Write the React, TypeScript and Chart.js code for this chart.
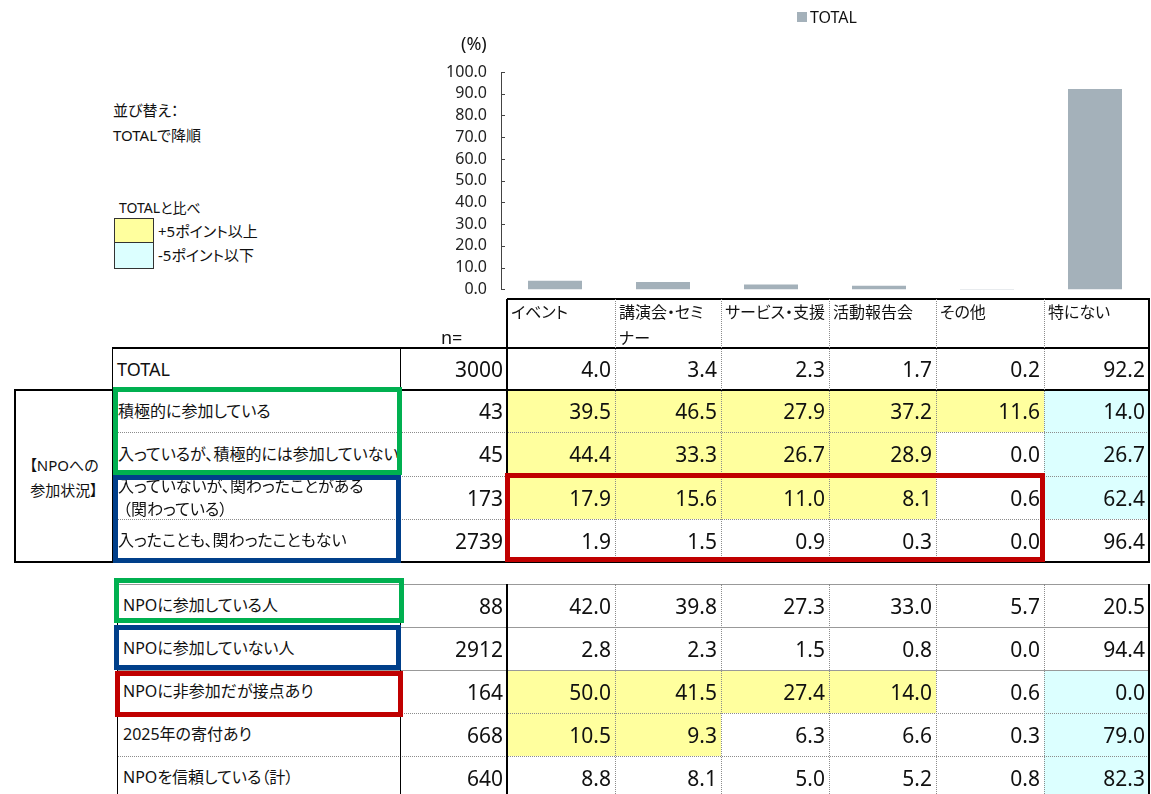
import React, { useEffect, useRef } from "react";
import { Chart, registerables } from "chart.js";

Chart.register(...registerables);

// ---------- data ----------
const categories = ["イベント", "講演会・セミナー", "サービス・支援", "活動報告会", "その他", "特にない"];
const categoryHeaderLines = [["イベント"], ["講演会・セミ", "ナー"], ["サービス・支援"], ["活動報告会"], ["その他"], ["特にない"]];
const seriesLabel = "TOTAL";
const totalN = 3000;
const totalValues = [4.0, 3.4, 2.3, 1.7, 0.2, 92.2];

const groupLabel = ["【NPOへの", "参加状況】"];
const groupRowLabels = [
  ["積極的に参加している"],
  ["入っているが、積極的には参加していない"],
  ["入っていないが、関わったことがある", "（関わっている）"],
  ["入ったことも、関わったこともない"],
];
const groupRowN = [43, 45, 173, 2739];
const groupRowValues = [
  [39.5, 46.5, 27.9, 37.2, 11.6, 14.0],
  [44.4, 33.3, 26.7, 28.9, 0.0, 26.7],
  [17.9, 15.6, 11.0, 8.1, 0.6, 62.4],
  [1.9, 1.5, 0.9, 0.3, 0.0, 96.4],
];

const extraRowLabels = ["NPOに参加している人", "NPOに参加していない人", "NPOに非参加だが接点あり", "2025年の寄付あり", "NPOを信頼している（計）"];
const extraRowN = [88, 2912, 164, 668, 640];
const extraRowValues = [
  [42.0, 39.8, 27.3, 33.0, 5.7, 20.5],
  [2.8, 2.3, 1.5, 0.8, 0.0, 94.4],
  [50.0, 41.5, 27.4, 14.0, 0.6, 0.0],
  [10.5, 9.3, 6.3, 6.6, 0.3, 79.0],
  [8.8, 8.1, 5.0, 5.2, 0.8, 82.3],
];
const extraRowCompared = [false, false, true, true, true];

const yMin = 0;
const yMax = 100;
const yStep = 10;

// ---------- styles ----------
const BAR = "#A4B1BA";
const YELLOW = "#FFFF9E";
const CYAN = "#DCFFFF";
const GREEN = "#00B050";
const BLUE = "#003F8A";
const RED = "#C00000";
const FONT_JP = "'Noto Sans', 'Noto Sans CJK JP', sans-serif";
const FONT_NUM = "'Noto Sans', sans-serif";

const colX = [507, 615, 721, 829, 936, 1044, 1149];
const t1Rows = [
  [390, 432],
  [432, 476],
  [476, 519],
  [519, 562],
];
const t2Rows = [
  [584, 627],
  [627, 670],
  [670, 713],
  [713, 756],
  [756, 799],
];

function shade(v: number, base: number): string | null {
  if (v - base >= 5) return YELLOW;
  if (v - base <= -5) return CYAN;
  return null;
}

const H = (x1: number, x2: number, y: number, w: number, color: string, style = "solid", key?: string) => (
  <div
    key={key}
    style={{ position: "absolute", left: x1, top: y - w / 2, width: x2 - x1, height: 0, borderTop: `${w}px ${style} ${color}` }}
  />
);
const V = (x: number, y1: number, y2: number, w: number, color: string, style = "solid", key?: string) => (
  <div
    key={key}
    style={{ position: "absolute", left: x - w / 2, top: y1, width: 0, height: y2 - y1, borderLeft: `${w}px ${style} ${color}` }}
  />
);

function NumCell({ right, top, bottom, text }: { right: number; top: number; bottom: number; text: string }) {
  return (
    <div
      style={{
        position: "absolute",
        left: right - 150,
        width: 150,
        top,
        height: bottom - top,
        display: "flex",
        alignItems: "center",
        justifyContent: "flex-end",
        fontFamily: FONT_NUM,
        fontSize: 21,
        color: "#111",
        whiteSpace: "nowrap",
      }}
    >
      {text}
    </div>
  );
}

function LabelCell({ left, top, bottom, lines, size = 16 }: { left: number; top: number; bottom: number; lines: string[]; size?: number }) {
  return (
    <div
      style={{
        position: "absolute",
        left,
        top,
        height: bottom - top,
        display: "flex",
        flexDirection: "column",
        justifyContent: "center",
        fontFamily: FONT_JP,
        fontSize: size,
        lineHeight: "23px",
        color: "#111",
        whiteSpace: "nowrap",
        fontFeatureSettings: '"palt"',
      }}
    >
      {lines.map((l, i) => (
        <div key={i} style={i > 0 && l.startsWith("（") ? { marginLeft: 5 } : undefined}>
          {l}
        </div>
      ))}
    </div>
  );
}

function Txt({ x, y, text, size, family = FONT_JP }: { x: number; y: number; text: string; size: number; family?: string }) {
  return (
    <div
      style={{
        position: "absolute",
        left: x,
        top: y - 12,
        height: 24,
        lineHeight: "24px",
        fontFamily: family,
        fontSize: size,
        color: "#111",
        whiteSpace: "nowrap",
        fontFeatureSettings: '"palt"',
      }}
    >
      {text}
    </div>
  );
}

function Box({ l, t, r, b, color }: { l: number; t: number; r: number; b: number; color: string }) {
  return (
    <div
      style={{
        position: "absolute",
        left: l,
        top: t,
        width: r - l,
        height: b - t,
        boxSizing: "border-box",
        border: `5px solid ${color}`,
      }}
    />
  );
}

export default function App() {
  const canvasRef = useRef<HTMLCanvasElement>(null);

  useEffect(() => {
    const canvas = canvasRef.current;
    if (!canvas) return;
    const inwardTicks = {
      id: "inwardTicks",
      afterDraw(chart: any) {
        const ys = chart.scales.y;
        const left = chart.chartArea.left;
        const ctx = chart.ctx;
        ctx.save();
        ctx.strokeStyle = "#444";
        ctx.lineWidth = 1;
        ys.ticks.forEach((t: any) => {
          const py = Math.round(ys.getPixelForValue(t.value)) + 0.5;
          ctx.beginPath();
          ctx.moveTo(left, py);
          ctx.lineTo(left + 4, py);
          ctx.stroke();
        });
        ctx.restore();
      },
    };
    const chart = new Chart(canvas, {
      type: "bar",
      data: {
        labels: categories,
        datasets: [
          {
            label: seriesLabel,
            data: totalValues,
            backgroundColor: BAR,
            barPercentage: 0.5,
            categoryPercentage: 1,
          },
        ],
      },
      options: {
        animation: false,
        responsive: false,
        devicePixelRatio: 1,
        layout: { padding: { top: 72, bottom: 0, left: 0, right: 2 } },
        plugins: { legend: { display: false }, tooltip: { enabled: false } },
        scales: {
          x: { display: false },
          y: {
            min: yMin,
            max: yMax,
            ticks: {
              stepSize: yStep,
              autoSkip: false,
              callback: (v: any) => Number(v).toFixed(1),
              font: { family: "Noto Sans", size: 16 },
              color: "#222",
              padding: 14,
            },
            grid: { display: false, drawTicks: false },
            border: { display: true, color: "#444", width: 1 },
            afterFit: (s: any) => {
              s.width = 101;
            },
          },
        },
      },
      plugins: [inwardTicks],
    } as any);
    return () => chart.destroy();
  }, []);

  const els: React.ReactNode[] = [];

  // fills
  groupRowValues.forEach((row, ri) => {
    row.forEach((v, ci) => {
      const c = shade(v, totalValues[ci]);
      if (c)
        els.push(
          <div
            key={`f1-${ri}-${ci}`}
            style={{ position: "absolute", left: colX[ci], top: t1Rows[ri][0], width: colX[ci + 1] - colX[ci], height: t1Rows[ri][1] - t1Rows[ri][0], background: c }}
          />
        );
    });
  });
  extraRowValues.forEach((row, ri) => {
    if (!extraRowCompared[ri]) return;
    row.forEach((v, ci) => {
      const c = shade(v, totalValues[ci]);
      if (c)
        els.push(
          <div
            key={`f2-${ri}-${ci}`}
            style={{ position: "absolute", left: colX[ci], top: t2Rows[ri][0], width: colX[ci + 1] - colX[ci], height: t2Rows[ri][1] - t2Rows[ri][0], background: c }}
          />
        );
    });
  });

  // lines table 1
  const K = "#000";
  const G = "#8c8c8c";
  els.push(H(507, 1150, 299, 2, K, "solid", "h0"));
  els.push(H(112, 1150, 348, 2, K, "solid", "h1"));
  els.push(H(14, 1150, 390, 2, K, "solid", "h2"));
  els.push(H(113, 1149, 432, 1, G, "dotted", "h3"));
  els.push(H(113, 1149, 476, 1, G, "dotted", "h4"));
  els.push(H(113, 1149, 519, 1, G, "dotted", "h5"));
  els.push(H(14, 1150, 562, 2, K, "solid", "h6"));
  els.push(V(15, 390, 563, 2, K, "solid", "v0"));
  els.push(V(113, 348, 562, 1.5, K, "solid", "v1"));
  els.push(V(400, 348, 562, 1, K, "solid", "v2"));
  els.push(V(507, 299, 562, 2, K, "solid", "v3"));
  els.push(V(1149, 299, 562, 2, K, "solid", "v4"));
  colX.slice(1, 6).forEach((x, i) => els.push(V(x, 299, 562, 1, G, "dotted", `vd1-${i}`)));

  // lines table 2
  els.push(H(118, 1149, 584, 1, "#999", "solid", "g0"));
  els.push(H(118, 1149, 627, 1, "#999", "solid", "g1"));
  els.push(H(118, 1149, 670, 1, "#999", "solid", "g2"));
  els.push(H(118, 1149, 713, 1, G, "dotted", "g3"));
  els.push(H(118, 1149, 756, 1, G, "dotted", "g4"));
  els.push(V(118, 584, 800, 1.5, K, "solid", "w0"));
  els.push(V(400, 584, 800, 1, K, "solid", "w1"));
  els.push(V(507, 584, 800, 2, K, "solid", "w2"));
  els.push(V(1149, 584, 800, 2, K, "solid", "w3"));
  colX.slice(1, 6).forEach((x, i) => els.push(V(x, 584, 800, 1, G, "dotted", `vd2-${i}`)));

  // header labels
  categoryHeaderLines.forEach((lines, ci) => {
    els.push(
      <div
        key={`hd-${ci}`}
        style={{
          position: "absolute",
          left: colX[ci] + 4,
          top: 299,
          lineHeight: "26px",
          fontFamily: FONT_JP,
          fontSize: 16,
          color: "#111",
          whiteSpace: "nowrap",
          fontFeatureSettings: '"palt"',
        }}
      >
        {lines.map((l, i) => (
          <div key={i}>{l}</div>
        ))}
      </div>
    );
  });

  // TOTAL row
  els.push(<LabelCell key="tl" left={117} top={348} bottom={390} lines={[seriesLabel]} size={18} />);
  els.push(<NumCell key="tn" right={503} top={348} bottom={390} text={String(totalN)} />);
  totalValues.forEach((v, ci) =>
    els.push(<NumCell key={`tv-${ci}`} right={colX[ci + 1] - 4} top={348} bottom={390} text={v.toFixed(1)} />)
  );

  // group rows
  groupRowLabels.forEach((lines, ri) => {
    const [t, b] = t1Rows[ri];
    els.push(<LabelCell key={`gl-${ri}`} left={118} top={t} bottom={b} lines={lines} />);
    els.push(<NumCell key={`gn-${ri}`} right={503} top={t} bottom={b} text={String(groupRowN[ri])} />);
    groupRowValues[ri].forEach((v, ci) =>
      els.push(<NumCell key={`gv-${ri}-${ci}`} right={colX[ci + 1] - 4} top={t} bottom={b} text={v.toFixed(1)} />)
    );
  });

  // extra rows
  extraRowLabels.forEach((label, ri) => {
    const [t, b] = t2Rows[ri];
    els.push(<LabelCell key={`el-${ri}`} left={123} top={t} bottom={b} lines={[label]} />);
    els.push(<NumCell key={`en-${ri}`} right={503} top={t} bottom={b} text={String(extraRowN[ri])} />);
    extraRowValues[ri].forEach((v, ci) =>
      els.push(<NumCell key={`ev-${ri}-${ci}`} right={colX[ci + 1] - 4} top={t} bottom={b} text={v.toFixed(1)} />)
    );
  });

  return (
    <div
      style={{
        position: "absolute",
        left: 0,
        top: 0,
        width: 1151,
        height: 794,
        overflow: "hidden",
        background: "#fff",
        fontFamily: FONT_JP,
      }}
    >
      <canvas ref={canvasRef} width={751} height={313} style={{ position: "absolute", left: 400, top: 0, width: 751, height: 313 }} />

      {/* legend */}
      <div style={{ position: "absolute", left: 797, top: 12, width: 10, height: 10, background: BAR }} />
      <Txt x={810} y={17} text={seriesLabel} size={16} family={FONT_NUM} />
      <Txt x={461} y={43} text="(%)" size={18} family={FONT_NUM} />

      {/* notes */}
      <Txt x={113} y={110} text="並び替え：" size={15} />
      <Txt x={113} y={135} text="TOTALで降順" size={15} />
      <Txt x={119} y={208} text="TOTALと比べ" size={14} />
      <div style={{ position: "absolute", left: 114, top: 218, width: 40, height: 25, boxSizing: "border-box", background: YELLOW, border: "1px solid #333" }} />
      <div style={{ position: "absolute", left: 114, top: 242, width: 40, height: 27, boxSizing: "border-box", background: CYAN, border: "1px solid #333" }} />
      <Txt x={158} y={231} text="+5ポイント以上" size={15} />
      <Txt x={158} y={255} text="-5ポイント以下" size={15} />

      {els}

      <Txt x={441} y={337} text="n=" size={18} family={FONT_NUM} />

      {/* group label */}
      <div
        style={{
          position: "absolute",
          left: 15,
          width: 98,
          top: 453,
          textAlign: "center",
          lineHeight: "25px",
          fontFamily: FONT_JP,
          fontSize: 15,
          color: "#111",
          fontFeatureSettings: '"palt"',
        }}
      >
        {groupLabel.map((l, i) => (
          <div key={i}>{l}</div>
        ))}
      </div>

      {/* highlight frames */}
      <Box l={113} t={387} r={402} b={475} color={GREEN} />
      <Box l={113} t={475} r={401} b={563} color={BLUE} />
      <Box l={505} t={473} r={1045} b={562} color={RED} />
      <Box l={114} t={578} r={404} b={623} color={GREEN} />
      <Box l={114} t={625} r={401} b={670} color={BLUE} />
      <Box l={115} t={671} r={403} b={717} color={RED} />
    </div>
  );
}
